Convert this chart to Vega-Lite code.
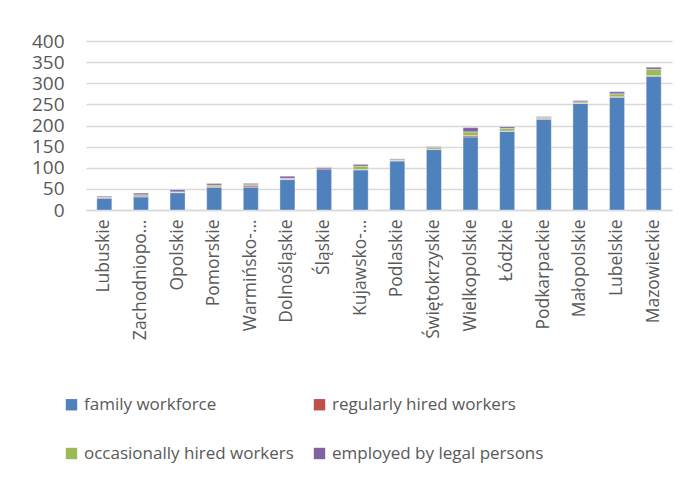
{
  "$schema": "https://vega.github.io/schema/vega-lite/v6.json",
  "autosize": {"type": "none"},
  "width": 586,
  "height": 169,
  "padding": {"left": 86, "top": 41, "right": 19, "bottom": 269},
  "background": "white",
  "config": {
    "view": {"stroke": null},
    "font": "Open Sans",
    "axis": {"labelColor": "#595959", "labelFont": "Open Sans"},
    "legend": {"labelColor": "#595959", "labelFont": "Open Sans"}
  },
  "data": {
    "values": [
      {"region": "Lubuskie", "k": 1, "type": "family workforce", "v": 28},
      {"region": "Lubuskie", "k": 2, "type": "regularly hired workers", "v": 1},
      {"region": "Lubuskie", "k": 3, "type": "occasionally hired workers", "v": 2},
      {"region": "Lubuskie", "k": 4, "type": "employed by legal persons", "v": 2},
      {"region": "Zachodniopomorskie", "k": 1, "type": "family workforce", "v": 31},
      {"region": "Zachodniopomorskie", "k": 2, "type": "regularly hired workers", "v": 2},
      {"region": "Zachodniopomorskie", "k": 3, "type": "occasionally hired workers", "v": 3},
      {"region": "Zachodniopomorskie", "k": 4, "type": "employed by legal persons", "v": 4},
      {"region": "Opolskie", "k": 1, "type": "family workforce", "v": 41},
      {"region": "Opolskie", "k": 2, "type": "regularly hired workers", "v": 1},
      {"region": "Opolskie", "k": 3, "type": "occasionally hired workers", "v": 1},
      {"region": "Opolskie", "k": 4, "type": "employed by legal persons", "v": 5},
      {"region": "Pomorskie", "k": 1, "type": "family workforce", "v": 54},
      {"region": "Pomorskie", "k": 2, "type": "regularly hired workers", "v": 1},
      {"region": "Pomorskie", "k": 3, "type": "occasionally hired workers", "v": 4},
      {"region": "Pomorskie", "k": 4, "type": "employed by legal persons", "v": 4},
      {"region": "Warmińsko-Mazurskie", "k": 1, "type": "family workforce", "v": 54},
      {"region": "Warmińsko-Mazurskie", "k": 2, "type": "regularly hired workers", "v": 3},
      {"region": "Warmińsko-Mazurskie", "k": 3, "type": "occasionally hired workers", "v": 3},
      {"region": "Warmińsko-Mazurskie", "k": 4, "type": "employed by legal persons", "v": 3},
      {"region": "Dolnośląskie", "k": 1, "type": "family workforce", "v": 72},
      {"region": "Dolnośląskie", "k": 2, "type": "regularly hired workers", "v": 1},
      {"region": "Dolnośląskie", "k": 3, "type": "occasionally hired workers", "v": 2},
      {"region": "Dolnośląskie", "k": 4, "type": "employed by legal persons", "v": 5},
      {"region": "Śląskie", "k": 1, "type": "family workforce", "v": 97},
      {"region": "Śląskie", "k": 2, "type": "regularly hired workers", "v": 3},
      {"region": "Śląskie", "k": 3, "type": "occasionally hired workers", "v": 1},
      {"region": "Śląskie", "k": 4, "type": "employed by legal persons", "v": 1},
      {"region": "Kujawsko-Pomorskie", "k": 1, "type": "family workforce", "v": 95},
      {"region": "Kujawsko-Pomorskie", "k": 2, "type": "regularly hired workers", "v": 1},
      {"region": "Kujawsko-Pomorskie", "k": 3, "type": "occasionally hired workers", "v": 8},
      {"region": "Kujawsko-Pomorskie", "k": 4, "type": "employed by legal persons", "v": 4},
      {"region": "Podlaskie", "k": 1, "type": "family workforce", "v": 116},
      {"region": "Podlaskie", "k": 2, "type": "regularly hired workers", "v": 1},
      {"region": "Podlaskie", "k": 3, "type": "occasionally hired workers", "v": 2},
      {"region": "Podlaskie", "k": 4, "type": "employed by legal persons", "v": 2},
      {"region": "Świętokrzyskie", "k": 1, "type": "family workforce", "v": 143},
      {"region": "Świętokrzyskie", "k": 2, "type": "regularly hired workers", "v": 1},
      {"region": "Świętokrzyskie", "k": 3, "type": "occasionally hired workers", "v": 4},
      {"region": "Świętokrzyskie", "k": 4, "type": "employed by legal persons", "v": 2},
      {"region": "Wielkopolskie", "k": 1, "type": "family workforce", "v": 173},
      {"region": "Wielkopolskie", "k": 2, "type": "regularly hired workers", "v": 3},
      {"region": "Wielkopolskie", "k": 3, "type": "occasionally hired workers", "v": 9},
      {"region": "Wielkopolskie", "k": 4, "type": "employed by legal persons", "v": 10},
      {"region": "Łódzkie", "k": 1, "type": "family workforce", "v": 186},
      {"region": "Łódzkie", "k": 2, "type": "regularly hired workers", "v": 1},
      {"region": "Łódzkie", "k": 3, "type": "occasionally hired workers", "v": 6},
      {"region": "Łódzkie", "k": 4, "type": "employed by legal persons", "v": 4},
      {"region": "Podkarpackie", "k": 1, "type": "family workforce", "v": 215},
      {"region": "Podkarpackie", "k": 2, "type": "regularly hired workers", "v": 1},
      {"region": "Podkarpackie", "k": 3, "type": "occasionally hired workers", "v": 3},
      {"region": "Podkarpackie", "k": 4, "type": "employed by legal persons", "v": 2},
      {"region": "Małopolskie", "k": 1, "type": "family workforce", "v": 252},
      {"region": "Małopolskie", "k": 2, "type": "regularly hired workers", "v": 1},
      {"region": "Małopolskie", "k": 3, "type": "occasionally hired workers", "v": 3},
      {"region": "Małopolskie", "k": 4, "type": "employed by legal persons", "v": 3},
      {"region": "Lubelskie", "k": 1, "type": "family workforce", "v": 267},
      {"region": "Lubelskie", "k": 2, "type": "regularly hired workers", "v": 1},
      {"region": "Lubelskie", "k": 3, "type": "occasionally hired workers", "v": 7},
      {"region": "Lubelskie", "k": 4, "type": "employed by legal persons", "v": 5},
      {"region": "Mazowieckie", "k": 1, "type": "family workforce", "v": 316},
      {"region": "Mazowieckie", "k": 2, "type": "regularly hired workers", "v": 2},
      {"region": "Mazowieckie", "k": 3, "type": "occasionally hired workers", "v": 15},
      {"region": "Mazowieckie", "k": 4, "type": "employed by legal persons", "v": 5}
    ]
  },
  "mark": {"type": "bar", "stroke": "white", "strokeWidth": 0.6, "strokeOpacity": 0.6},
  "encoding": {
    "x": {
      "field": "region",
      "type": "nominal",
      "sort": null,
      "title": null,
      "scale": {"paddingInner": 0.59, "paddingOuter": 0.295},
      "axis": {
        "labelAngle": -90,
        "labelFontSize": 17.5,
        "labelPadding": 9,
        "ticks": false,
        "domain": true,
        "domainColor": "#d9d9d9",
        "domainWidth": 1.5,
        "labelLimit": 200,
        "labelExpr": "datum.label == 'Zachodniopomorskie' ? 'Zachodniopo…' : datum.label == 'Warmińsko-Mazurskie' ? 'Warmińsko-…' : datum.label == 'Kujawsko-Pomorskie' ? 'Kujawsko-…' : datum.label"
      }
    },
    "y": {
      "field": "v",
      "type": "quantitative",
      "stack": "zero",
      "title": null,
      "scale": {"domain": [0, 400], "nice": false},
      "axis": {
        "values": [0, 50, 100, 150, 200, 250, 300, 350, 400],
        "labelFontSize": 19,
        "labelPadding": 22,
        "ticks": false,
        "domain": false,
        "grid": true,
        "gridColor": "#d9d9d9",
        "gridWidth": 1.5
      }
    },
    "color": {
      "field": "type",
      "type": "nominal",
      "scale": {
        "domain": ["family workforce", "regularly hired workers", "occasionally hired workers", "employed by legal persons"],
        "range": ["#4F81BD", "#C0504D", "#9BBB59", "#8064A2"]
      },
      "legend": {
        "title": null,
        "orient": "none",
        "legendX": -23,
        "legendY": 355,
        "direction": "horizontal",
        "columns": 2,
        "columnPadding": 17,
        "rowPadding": 31,
        "symbolType": "square",
        "symbolSize": 130,
        "symbolStrokeWidth": 0,
        "labelFontSize": 17,
        "labelLimit": 400,
        "labelOffset": 4
      }
    },
    "order": {"field": "k", "type": "quantitative"}
  }
}
